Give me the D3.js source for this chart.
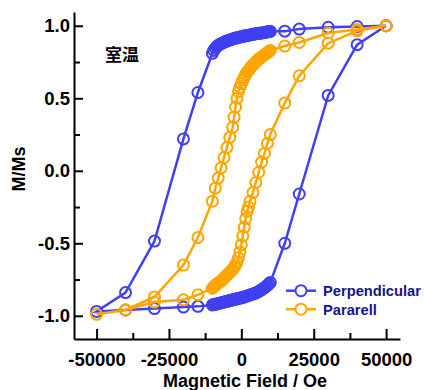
<!DOCTYPE html>
<html>
<head>
<meta charset="utf-8">
<script src="https://cdn.jsdelivr.net/npm/d3@7"></script>
<style>
  body { margin: 0; background: #fff; }
  text { font-family: "Liberation Sans", Arial, sans-serif; font-weight: bold; }
</style>
</head>
<body>
<script>
// hysteresis data: field (Oe) and M/Ms, sweep +50000 -> -50000 -> +50000
var perpField = [50000, 40000, 30000, 20000, 15000,
  10000, 9500, 9000, 8500, 8000, 7500, 7000, 6500, 6000, 5500, 5000, 4500, 4000, 3500, 3000, 2500, 2000, 1500, 1000, 500, 0,
  -500, -1000, -1500, -2000, -2500, -3000, -3500, -4000, -4500, -5000, -5500, -6000, -6500, -7000, -7500, -8000, -8500, -9000, -9500, -10000,
  -15000, -20000, -30000, -40000, -50000,
  -40000, -30000, -20000, -15000,
  -10000, -9500, -9000, -8500, -8000, -7500, -7000, -6500, -6000, -5500, -5000, -4500, -4000, -3500, -3000, -2500, -2000, -1500, -1000, -500, 0,
  500, 1000, 1500, 2000, 2500, 3000, 3500, 4000, 4500, 5000, 5500, 6000, 6500, 7000, 7500, 8000, 8500, 9000, 9500, 10000,
  15000, 20000, 30000, 40000, 50000]
var perpM = [1.0, 0.995, 0.99, 0.977, 0.963,
  0.962, 0.96, 0.958, 0.956, 0.954, 0.952, 0.951, 0.949, 0.948, 0.946, 0.945, 0.943, 0.941, 0.939, 0.937, 0.935, 0.933, 0.931, 0.929, 0.927, 0.925,
  0.922, 0.92, 0.917, 0.915, 0.912, 0.909, 0.906, 0.902, 0.899, 0.895, 0.891, 0.887, 0.882, 0.877, 0.871, 0.865, 0.856, 0.845, 0.83, 0.81,
  0.54, 0.22, -0.485, -0.84, -0.97,
  -0.96, -0.95, -0.94, -0.935,
  -0.925, -0.922, -0.92, -0.918, -0.915, -0.913, -0.91, -0.908, -0.905, -0.903, -0.9, -0.898, -0.895, -0.893, -0.89, -0.888, -0.885, -0.883, -0.88, -0.878, -0.876,
  -0.873, -0.87, -0.867, -0.863, -0.86, -0.856, -0.853, -0.849, -0.846, -0.842, -0.837, -0.832, -0.826, -0.82, -0.813, -0.806, -0.798, -0.79, -0.781, -0.77,
  -0.5, -0.16, 0.52, 0.87, 1.0]

var paraField = [50000, 40000, 30000, 20000, 15000,
  10000, 9500, 9000, 8500, 8000, 7500, 7000, 6500, 6000, 5500, 5000, 4500, 4000, 3500, 3000, 2500, 2000, 1500, 1000, 500, 0,
  -500, -1000, -1500, -2000, -2500, -3000, -4000, -5000, -6000, -7000, -8000, -9000, -10000,
  -15000, -20000, -30000, -40000, -50000,
  -40000, -30000, -20000, -15000,
  -10000, -9500, -9000, -8500, -8000, -7500, -7000, -6500, -6000, -5500, -5000, -4500, -4000, -3500, -3000, -2500, -2000, -1500, -1000, -500, 0,
  500, 1000, 1500, 2000, 2500, 3000, 4000, 5000, 6000, 7000, 8000, 9000, 10000,
  15000, 20000, 30000, 40000, 50000]
var paraM = [1.0, 0.975, 0.95, 0.885, 0.86,
  0.83, 0.822, 0.815, 0.808, 0.8, 0.792, 0.785, 0.777, 0.77, 0.76, 0.75, 0.74, 0.73, 0.718, 0.705, 0.693, 0.68, 0.663, 0.645, 0.625, 0.6,
  0.575, 0.545, 0.5, 0.44, 0.37, 0.3, 0.23, 0.16, 0.09, 0.02, -0.05, -0.12, -0.21,
  -0.46, -0.65, -0.87, -0.96, -0.99,
  -0.96, -0.905, -0.89, -0.855,
  -0.81, -0.8, -0.79, -0.782, -0.775, -0.767, -0.76, -0.75, -0.74, -0.73, -0.72, -0.71, -0.7, -0.69, -0.68, -0.665, -0.65, -0.63, -0.6, -0.56, -0.51,
  -0.45, -0.39, -0.33, -0.28, -0.25, -0.21, -0.15, -0.08, -0.01, 0.06, 0.12, 0.19, 0.25,
  0.467, 0.655, 0.88, 0.965, 1.0]

var seriesNames = ["Perpendicular", "Pararell"]
var seriesColors = ["#4040f2", "#ffa500"]

var xTicks = [-50000, -25000, 0, 25000, 50000]
var xMinor = [-37500, -12500, 12500, 37500]
var yTicks = [-1.0, -0.5, 0.0, 0.5, 1.0]
var yTickLabels = ["-1.0", "-0.5", "0.0", "0.5", "1.0"]
var yMinor = [-0.75, -0.25, 0.25, 0.75]

var svg = d3.select("body").append("svg").attr("width", 424).attr("height", 390)

var x = d3.scaleLinear().domain([-57800, 54800]).range([74, 400])
var y = d3.scaleLinear().domain([-1.16, 1.095]).range([339, 12])

// axes
svg.append("g").attr("transform", "translate(0,339)")
  .call(d3.axisBottom(x).tickValues(xTicks).tickSizeInner(-10).tickSizeOuter(0).tickPadding(14)
    .tickFormat(function(d) { return String(d) }))
svg.append("g").attr("transform", "translate(0,339)")
  .call(d3.axisBottom(x).tickValues(xMinor).tickSizeInner(-6).tickSizeOuter(0).tickFormat(""))
  .select(".domain").remove()

svg.append("g").attr("transform", "translate(74,0)")
  .call(d3.axisLeft(y).tickValues(yTicks).tickSizeInner(-9).tickSizeOuter(0).tickPadding(4)
    .tickFormat(function(d, i) { return yTickLabels[i] }))
svg.append("g").attr("transform", "translate(74,0)")
  .call(d3.axisLeft(y).tickValues(yMinor).tickSizeInner(-6).tickSizeOuter(0).tickFormat(""))
  .select(".domain").remove()

svg.selectAll(".domain, .tick line").attr("stroke", "#000").attr("stroke-width", 2)
svg.selectAll(".tick text").attr("font-size", 18.5).attr("fill", "#000")
  .attr("font-family", '"Liberation Sans", Arial, sans-serif').attr("font-weight", "bold")

// axis titles
svg.append("text").attr("x", 245).attr("y", 387).attr("text-anchor", "middle")
  .attr("font-size", 18).text("Magnetic Field / Oe")
svg.append("text").attr("transform", "translate(25,169) rotate(-90)").attr("text-anchor", "middle")
  .attr("font-size", 18).text("M/Ms")

svg.append("text").attr("x", 105).attr("y", 61).attr("font-size", 17)
  .style("font-family", '"Noto Sans CJK JP", sans-serif').text("室温")

// series
var lineFunc = d3.line()
  .x(function(d) { return x(d[0]) })
  .y(function(d) { return y(d[1]) })

var series = [d3.zip(perpField, perpM), d3.zip(paraField, paraM)]

series.forEach(function(pts, i) {
  var g = svg.append("g")
  g.append("path")
    .attr("d", lineFunc(pts))
    .attr("fill", "none")
    .attr("stroke", seriesColors[i])
    .attr("stroke-width", 2.5)
  g.selectAll("circle").data(pts).enter().append("circle")
    .attr("cx", function(d) { return x(d[0]) })
    .attr("cy", function(d) { return y(d[1]) })
    .attr("r", 5.5)
    .attr("fill", "none")
    .attr("stroke", seriesColors[i])
    .attr("stroke-width", 2)
})

// legend
var legend = svg.append("g")
seriesNames.forEach(function(name, i) {
  var ly = 290.7 + i * 18.5
  legend.append("line").attr("x1", 286).attr("x2", 316).attr("y1", ly).attr("y2", ly)
    .attr("stroke", seriesColors[i]).attr("stroke-width", 2.5)
  legend.append("circle").attr("cx", 301).attr("cy", ly).attr("r", 5.5)
    .attr("fill", "#fff").attr("stroke", seriesColors[i]).attr("stroke-width", 2)
  legend.append("text").attr("x", 323).attr("y", ly + 5.3).attr("font-size", 14.7)
    .attr("fill", "#14148c").text(name)
})
</script>
</body>
</html>
